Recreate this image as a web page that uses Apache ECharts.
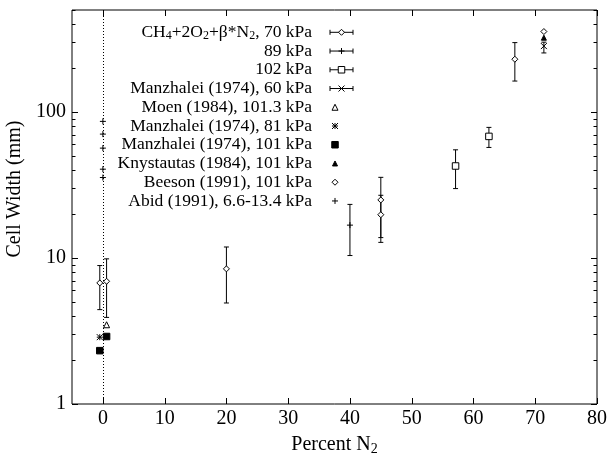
<!DOCTYPE html>
<html><head><meta charset="utf-8">
<script src="https://cdn.jsdelivr.net/npm/echarts@6/dist/echarts.min.js"></script>
<style>html,body{margin:0;padding:0;background:#fff}#c{width:611px;height:453px}</style>
</head><body><div id="c"></div>
<script>
const FONT = "'Liberation Serif','Times New Roman',serif";

// [x, y, yLow, yHigh]
const s70 = [[-0.5, 6.75, 4.43, 8.88], [0.6, 6.93, 3.92, 9.87], [20, 8.43, 4.92, 11.9], [45, 25, 13.8, 35.7], [45, 19.8, 12.8, 26.9], [66.7, 230, 163, 299]];
const s89 = [[40, 16.8, 10.4, 23.3]];
const s102 = [[57.1, 42.7, 29.9, 55.1], [62.5, 68.1, 57.2, 78.5]];
const manz60 = [[71.4, 283, 254, 301]];
// [x, y]
const moen = [[0.6, 3.49]];
const manz81 = [[-0.5, 2.87]];
const manz101 = [[-0.5, 2.32], [0.6, 2.9]];
const knyst = [[71.4, 323]];
const beeson = [[71.4, 356]];
const abid = [[0, 86.3], [0, 70.6], [0, 56.6], [0, 40.6], [0, 35.6]];

const xMin = -5, xMax = 80, yMin = 1, yMax = 500;
const xTicks = [0, 10, 20, 30, 40, 50, 60, 70, 80];
const yMajor = [1, 10, 100];
const yMinor = [2, 3, 4, 5, 6, 7, 8, 9, 20, 30, 40, 50, 60, 70, 80, 90, 200, 300, 400, 500];

const legendLabels = [
  'CH{s|4}+2O{s|2}+β*N{s|2}, 70 kPa',
  '89 kPa',
  '102 kPa',
  'Manzhalei (1974), 60 kPa',
  'Moen (1984), 101.3 kPa',
  'Manzhalei (1974), 81 kPa',
  'Manzhalei (1974), 101 kPa',
  'Knystautas (1984), 101 kPa',
  'Beeson (1991), 101 kPa',
  'Abid (1991), 6.6-13.4 kPa'
];

const P = {
  diamond: 'M5,0L10,5L5,10L0,5Z',
  square: 'M0,0L10,0L10,10L0,10Z',
  triangle: 'M5,0L10,10L0,10Z',
  plus: 'M5,0L5,10M0,5L10,5',
  cross: 'M0,0L10,10M10,0L0,10',
  star: 'M0,0L10,10M10,0L0,10M5,0L5,10M0,5L10,5'
};
// symbol styles: [shape, size, fill]
const symDefs = [
  ['diamond', 6, '#fff'],
  ['plus', 6, 'none'],
  ['square', 6.5, '#fff'],
  ['cross', 6, 'none'],
  ['triangle', 6, '#fff'],
  ['star', 6, 'none'],
  ['square', 6.5, '#000'],
  ['triangle', 5, '#000'],
  ['diamond', 6, '#fff'],
  ['plus', 6, 'none']
];
const errSets = [s70, s89, s102, manz60];
const ptSets = [moen, manz81, manz101, knyst, beeson, abid];
const ST = {stroke: '#000', lineWidth: 1, fill: null};

function errRender(params, api) {
  const x = api.value(0);
  const a = api.coord([x, api.value(2)]);
  const b = api.coord([x, api.value(3)]);
  const w = 2.5;
  return {type: 'group', children: [
    {type: 'line', shape: {x1: a[0], y1: a[1], x2: b[0], y2: b[1]}, style: ST},
    {type: 'line', shape: {x1: a[0] - w, y1: a[1], x2: a[0] + w, y2: a[1]}, style: ST},
    {type: 'line', shape: {x1: b[0] - w, y1: b[1], x2: b[0] + w, y2: b[1]}, style: ST}
  ]};
}

// inward ticks of the log axis, on left and right plot edges
function yTickRender(params, api) {
  const pL = api.coord([xMin, api.value(1)]);
  const pR = api.coord([xMax, api.value(1)]);
  const y = Math.round(pL[1]) + 0.5;
  const L = api.value(2);
  return {type: 'group', children: [
    {type: 'line', shape: {x1: pL[0], y1: y, x2: pL[0] + L, y2: y}, style: ST},
    {type: 'line', shape: {x1: pR[0] - L, y1: y, x2: pR[0], y2: y}, style: ST}
  ]};
}
// inward ticks of the x axis, on bottom and top plot edges
function xTickRender(params, api) {
  const pB = api.coord([api.value(0), yMin]);
  const pT = api.coord([api.value(0), yMax]);
  const x = Math.round(pB[0]) + 0.5;
  const L = api.value(2);
  return {type: 'group', children: [
    {type: 'line', shape: {x1: x, y1: pB[1], x2: x, y2: pB[1] - L}, style: ST},
    {type: 'line', shape: {x1: x, y1: pT[1], x2: x, y2: pT[1] + L}, style: ST}
  ]};
}

const series = [];
errSets.forEach((d, i) => {
  series.push({type: 'custom', xAxisIndex: 0, yAxisIndex: 0, data: d, renderItem: errRender,
    encode: {x: 0, y: 1}, dimensions: ['x', 'y', 'lo', 'hi'], z: 2, silent: true});
  const sd = symDefs[i];
  series.push({type: 'scatter', xAxisIndex: 0, yAxisIndex: 0, data: d.map(r => [r[0], r[1]]),
    symbol: 'path://' + P[sd[0]], symbolSize: sd[1], z: 3, silent: true,
    itemStyle: {color: sd[2], borderColor: '#000', borderWidth: 1, opacity: 1}});
});
ptSets.forEach((d, j) => {
  const sd = symDefs[4 + j];
  const s = {type: 'scatter', xAxisIndex: 0, yAxisIndex: 0, data: d,
    symbol: 'path://' + P[sd[0]], symbolSize: sd[1], z: 3, silent: true,
    itemStyle: {color: sd[2], borderColor: '#000', borderWidth: 1, opacity: 1}};
  if (j === 5) {
    s.markLine = {silent: true, symbol: 'none', label: {show: false},
      lineStyle: {color: '#000', type: [1, 2], width: 1}, data: [{xAxis: 0}]};
  }
  series.push(s);
});
series.push({type: 'custom', xAxisIndex: 0, yAxisIndex: 0,
  data: yMajor.map(v => [xMin, v, 6]).concat(yMinor.map(v => [xMin, v, 3.5])),
  encode: {x: 0, y: 1}, dimensions: ['x', 'v', 'len'], renderItem: yTickRender, silent: true, z: 5, clip: false});
series.push({type: 'custom', xAxisIndex: 0, yAxisIndex: 0,
  data: xTicks.map(v => [v, yMin, 6]),
  encode: {x: 0, y: 1}, dimensions: ['v', 'y', 'len'], renderItem: xTickRender, silent: true, z: 5, clip: false});

// legend symbol built from primitive graphic shapes
function legendSym(name, cx, cy, sz, fill) {
  const h = sz / 2;
  const st = {stroke: '#000', lineWidth: 1, fill: fill === 'none' ? null : fill};
  const ln = (x1, y1, x2, y2) => ({type: 'line', silent: true, z: 10, shape: {x1, y1, x2, y2}, style: st});
  if (name === 'diamond') return [{type: 'polygon', silent: true, z: 10, shape: {points: [[cx, cy - h], [cx + h, cy], [cx, cy + h], [cx - h, cy]]}, style: st}];
  if (name === 'square') return [{type: 'rect', silent: true, z: 10, shape: {x: cx - h, y: cy - h, width: sz, height: sz}, style: st}];
  if (name === 'triangle') return [{type: 'polygon', silent: true, z: 10, shape: {points: [[cx, cy - h], [cx + h, cy + h], [cx - h, cy + h]]}, style: st}];
  const out = [];
  if (name === 'plus' || name === 'star') out.push(ln(cx, cy - h, cx, cy + h), ln(cx - h, cy, cx + h, cy));
  if (name === 'cross' || name === 'star') out.push(ln(cx - h, cy - h, cx + h, cy + h), ln(cx + h, cy - h, cx - h, cy + h));
  return out;
}

const graphic = [];
const textRight = 312, row0 = 32.3, rowStep = 18.74;
legendLabels.forEach((lab, i) => {
  const cy = row0 + i * rowStep;
  graphic.push({type: 'text', x: textRight, y: cy, silent: true,
    style: {text: lab, align: 'right', verticalAlign: 'middle', fontFamily: FONT, fontSize: 17.5,
      fill: '#000', lineHeight: 20,
      rich: {s: {fontFamily: FONT, fontSize: 12, lineHeight: 9, verticalAlign: 'bottom', fill: '#000'}}}});
  const sd = symDefs[i];
  let cx = 335;
  if (i < 4) {
    cx = 341.5;
    const l = 330, r = 353;
    graphic.push({type: 'line', silent: true, shape: {x1: l, y1: cy, x2: r, y2: cy}, style: ST});
    graphic.push({type: 'line', silent: true, shape: {x1: l, y1: cy - 2.5, x2: l, y2: cy + 2.5}, style: ST});
    graphic.push({type: 'line', silent: true, shape: {x1: r, y1: cy - 2.5, x2: r, y2: cy + 2.5}, style: ST});
  }
  legendSym(sd[0], cx, cy, sd[1], sd[2]).forEach(g => graphic.push(g));
});

const noLine = {show: false, onZero: false};
const noTick = {show: false};
const labelSt = {fontFamily: FONT, fontSize: 20, color: '#000'};
const chart = echarts.init(document.getElementById('c'), null, {renderer: 'canvas'});
chart.setOption({
  animation: false,
  backgroundColor: '#fff',
  grid: {left: 72, right: 14, top: 10, bottom: 49, show: true, borderColor: '#000', borderWidth: 1,
    backgroundColor: 'transparent', containLabel: false, outerBoundsMode: 'none'},
  xAxis: [
    {type: 'value', position: 'bottom', min: xMin, max: xMax, axisLine: noLine, axisTick: noTick,
      axisLabel: Object.assign({margin: 5, customValues: xTicks}, labelSt),
      splitLine: {show: false},
      name: 'Percent N{s|2}', nameLocation: 'middle', nameGap: 23,
      nameTextStyle: {fontFamily: FONT, fontSize: 20, color: '#000', lineHeight: 22,
        rich: {s: {fontFamily: FONT, fontSize: 14, lineHeight: 10, verticalAlign: 'bottom', color: '#000'}}}}
  ],
  yAxis: [
    {type: 'log', logBase: 10, min: yMin, max: yMax, position: 'left', axisLine: noLine,
      axisTick: noTick, minorTick: {show: false},
      axisLabel: Object.assign({margin: 6, showMaxLabel: false}, labelSt),
      splitLine: {show: false},
      name: 'Cell Width (mm)', nameLocation: 'middle', nameGap: 42,
      nameTextStyle: {fontFamily: FONT, fontSize: 20, color: '#000', padding: [0, 0, 0, 36]}}
  ],
  graphic: graphic,
  series: series
});
</script></body></html>
